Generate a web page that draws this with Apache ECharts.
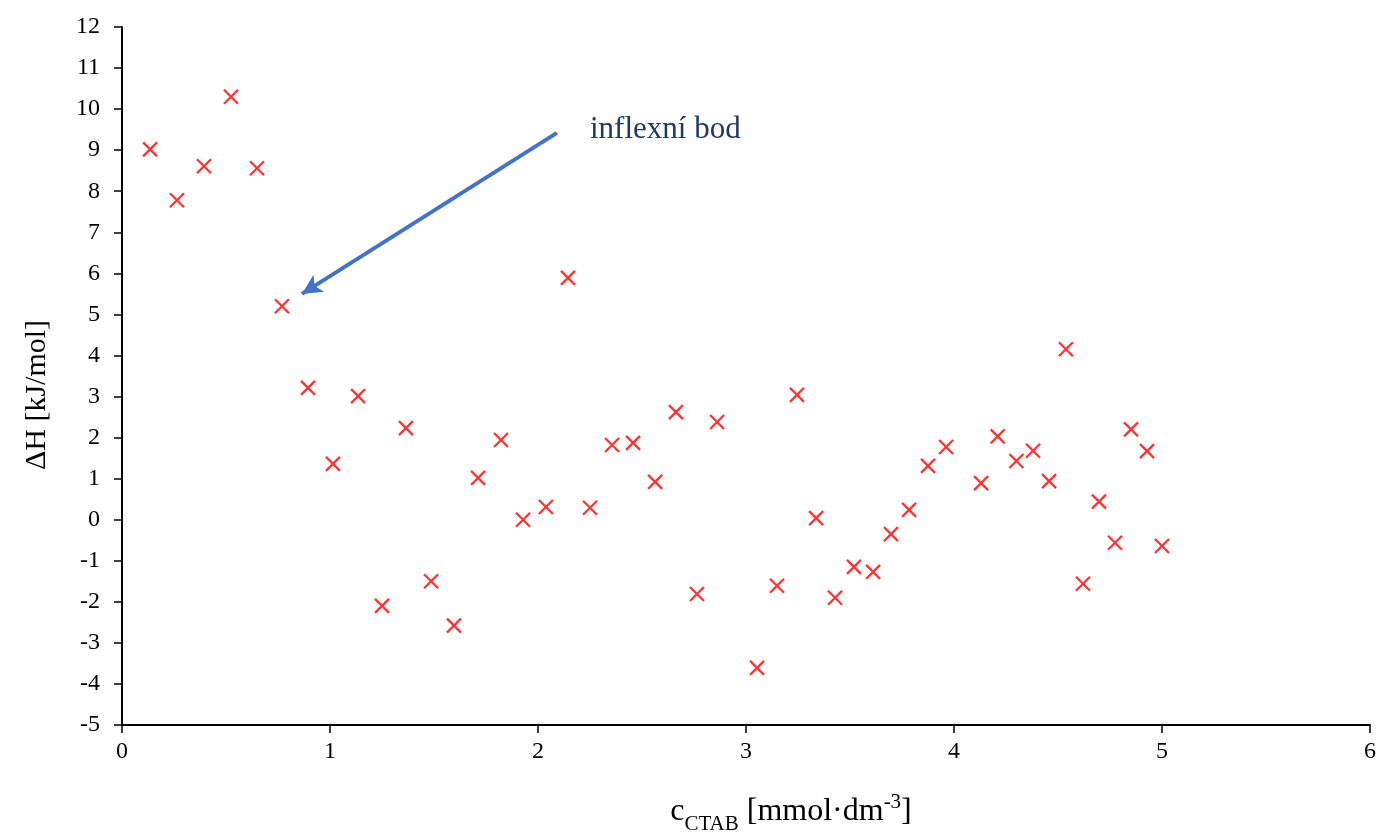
<!DOCTYPE html>
<html>
<head>
<meta charset="utf-8">
<script src="https://cdn.jsdelivr.net/npm/echarts@6/dist/echarts.min.js"></script>
<style>html,body{margin:0;padding:0;background:#fff}#c{width:1381px;height:837px}</style>
</head>
<body>
<div id="c"></div>
<script>
const xValues = [0.135,0.264,0.394,0.524,0.649,0.769,0.894,1.014,1.135,1.25,1.365,1.486,1.596,1.712,1.822,1.928,2.038,2.144,2.25,2.356,2.457,2.563,2.663,2.764,2.861,3.053,3.149,3.245,3.337,3.428,3.519,3.611,3.697,3.784,3.875,3.962,4.13,4.21,4.30,4.38,4.457,4.538,4.62,4.697,4.774,4.851,4.928,5.0];
const yValues = [9.02,7.78,8.61,10.3,8.56,5.2,3.21,1.36,3.01,-2.1,2.23,-1.5,-2.58,1.02,1.94,0.0,0.31,5.89,0.29,1.82,1.87,0.92,2.62,-1.81,2.38,-3.61,-1.61,3.04,0.04,-1.9,-1.15,-1.27,-0.35,0.24,1.31,1.77,0.89,2.03,1.43,1.68,0.94,4.15,-1.56,0.44,-0.56,2.2,1.67,-0.64];
const annotationText = 'inflexní bod';
const arrowFrom = [2.091, 9.42];
const arrowTo = [0.865, 5.5];
const labelAt = [2.25, 9.49];

const points = xValues.map((x, i) => [x, yValues[i]]);
const font = 'Liberation Serif';
const chart = echarts.init(document.getElementById('c'));
chart.setOption({
  animation: false,
  backgroundColor: '#fff',
  grid: {left: 122, right: 11, top: 27, bottom: 112, containLabel: false, outerBoundsMode: 'none'},
  xAxis: {
    type: 'value', min: 0, max: 6, interval: 1,
    axisLine: {onZero: false, lineStyle: {color: '#000', width: 2}},
    axisTick: {show: true, length: 8, lineStyle: {color: '#000', width: 1.5}},
    axisLabel: {color: '#000', fontFamily: font, fontSize: 24, margin: 15},
    splitLine: {show: false},
    name: '{a|c}{b|CTAB}{a| [mmol·dm}{c|-3}{a|]}',
    nameLocation: 'middle', nameGap: 67,
    nameTextStyle: {
      padding: [0, 0, 0, 90],
      rich: {
        a: {fontFamily: font, fontSize: 32, color: '#000', lineHeight: 36, verticalAlign: 'bottom'},
        b: {fontFamily: font, fontSize: 21, color: '#000', lineHeight: 36, verticalAlign: 'bottom', padding: [0,0,-7,0]},
        c: {fontFamily: font, fontSize: 21, color: '#000', lineHeight: 36, verticalAlign: 'top'}
      }
    }
  },
  yAxis: {
    type: 'value', min: -5, max: 12, interval: 1,
    axisLine: {show: true, onZero: false, lineStyle: {color: '#000', width: 2}},
    axisTick: {show: true, length: 8, lineStyle: {color: '#000', width: 1.5}},
    axisLabel: {color: '#000', fontFamily: font, fontSize: 24, margin: 22},
    splitLine: {show: false},
    name: 'ΔH [kJ/mol]',
    nameLocation: 'middle', nameGap: 70,
    nameTextStyle: {fontFamily: font, fontSize: 30, color: '#000', padding: [0, 38, 0, 0]}
  },
  series: [{
    type: 'scatter',
    data: points,
    symbol: 'path://M0,0L10,10M10,0L0,10',
    symbolSize: 14,
    itemStyle: {color: 'rgba(0,0,0,0)', borderColor: '#ff0000', borderWidth: 2.3},
    markLine: {
      silent: true,
      symbol: ['none', 'arrow'],
      symbolSize: [15, 20],
      lineStyle: {color: '#4472C4', width: 4, type: 'solid'},
      label: {show: false},
      data: [[{coord: arrowFrom}, {coord: arrowTo}]]
    },
    markPoint: {
      silent: true,
      symbol: 'circle', symbolSize: 0,
      label: {show: true, position: 'right', distance: 0, formatter: annotationText,
        fontFamily: font, fontSize: 31, color: '#1F3864'},
      data: [{coord: labelAt}]
    }
  }]
});
</script>
</body>
</html>
